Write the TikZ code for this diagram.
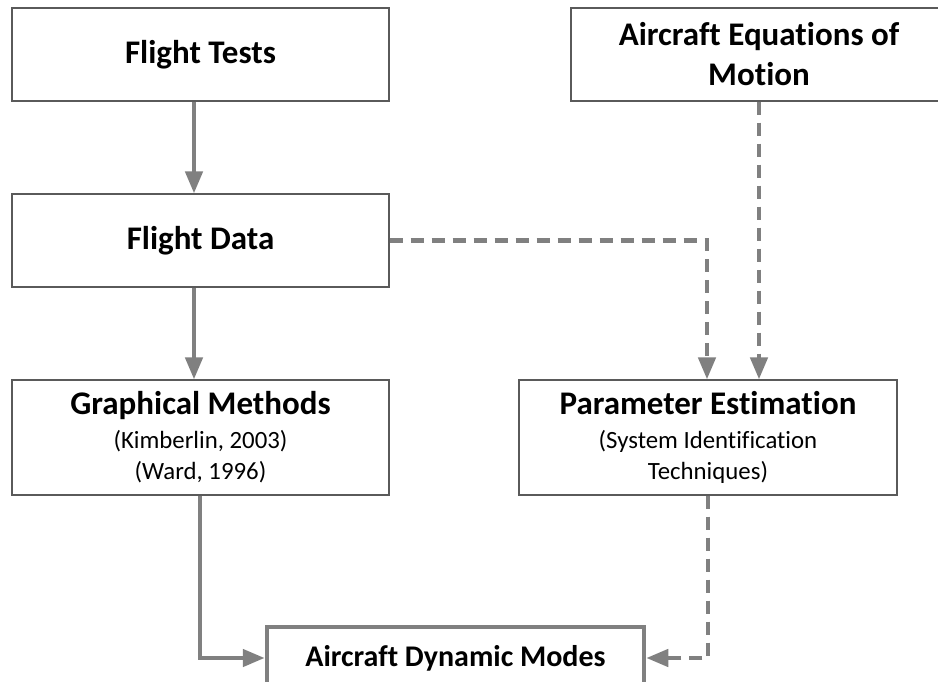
\documentclass[tikz,border=0pt]{standalone}
\usepackage{fontspec}
\setmainfont{Carlito}[Ligatures=NoCommon]
\usetikzlibrary{arrows.meta}
\definecolor{linegray}{HTML}{808080}
\definecolor{boxgray}{HTML}{5A5A5A}
\newcommand{\titlef}{\fontsize{33}{40}\selectfont\bfseries}
\newcommand{\dmf}{\fontsize{30}{38}\selectfont\bfseries}
\newcommand{\subf}{\fontsize{24.8}{31}\selectfont}
\tikzset{
  box/.style={draw=boxgray, line width=1.2pt, fill=white, align=center, inner sep=0pt, text=black},
  finalbox/.style={draw=linegray, line width=4.5pt, fill=white, align=center, inner sep=0pt, text=black},
  solidarrow/.style={draw=linegray, line width=4.5pt, -{Triangle[length=22pt,width=17pt]}},
  dasharrow/.style={draw=linegray, line width=4.5pt, dash pattern=on 13pt off 8pt, -{Triangle[length=22pt,width=17pt]}},
}
\begin{document}
\begin{tikzpicture}[x=1pt,y=-1pt]
\useasboundingbox (0,0) rectangle (938,681);
\clip (0,0) rectangle (938,681);
\fill[white] (0,0) rectangle (938,681);

\node[box, minimum width=377pt, minimum height=93pt, font=\titlef] (ft) at (200.5,54.5) {Flight Tests};
\node[box, minimum width=376pt, minimum height=93pt, font=\titlef] (eom) at (759,54.5) {Aircraft Equations of\\Motion};
\node[box, minimum width=377pt, minimum height=93pt, font=\titlef] (fd) at (200.5,240.5) {Flight Data};
\node[box, minimum width=377pt, minimum height=115pt, font=\subf] (gm) at (200.5,437.5) {{\titlef Graphical Methods}\\[3pt](Kimberlin, 2003)\\(Ward, 1996)};
\node[box, minimum width=378pt, minimum height=115pt, font=\subf] (pe) at (708,437.5) {{\titlef Parameter Estimation}\\[3pt](System Identification\\Techniques)};
\node[finalbox, minimum width=377pt, minimum height=62pt, font=\dmf] (dm) at (455.5,658) {Aircraft Dynamic Modes};

\coordinate (xa) at (194,0);
\coordinate (xb) at (200,0);
\coordinate (xc) at (707,0);

\draw[solidarrow] (ft.south -| xa) -- (fd.north -| xa);
\draw[solidarrow] (fd.south -| xa) -- (gm.north -| xa);
\draw[dasharrow] (fd.east) -| (pe.north -| xc);
\draw[dasharrow] (eom.south) -- (pe.north -| eom.south);
\draw[solidarrow] (gm.south -| xb) |- (dm.west);
\draw[dasharrow] (pe.south) |- (dm.east);
\end{tikzpicture}
\end{document}
